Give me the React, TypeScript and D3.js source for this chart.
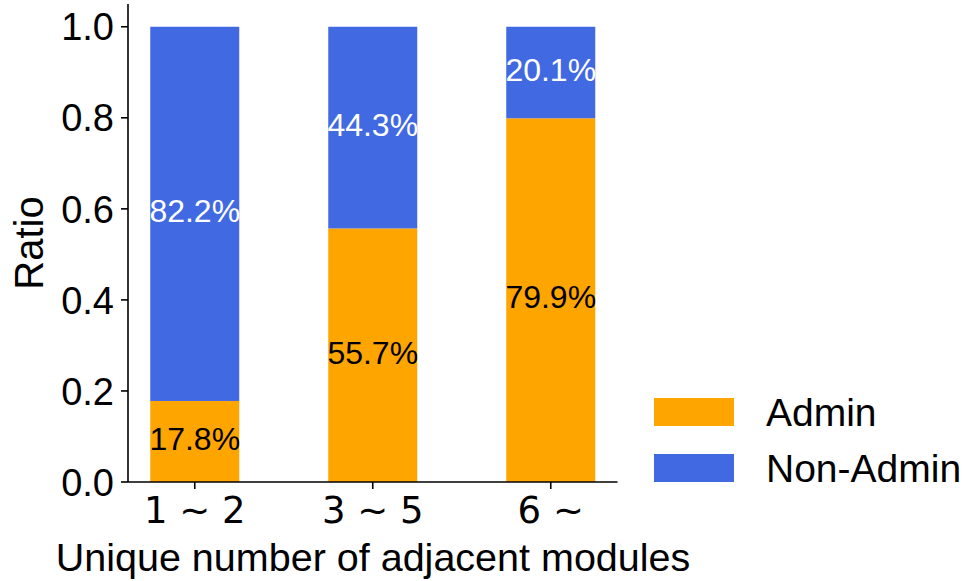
import React from "react";
import * as d3 from "d3";

const categories = ["1 ∼ 2", "3 ∼ 5", "6 ∼"];
const adminValues = [0.178, 0.557, 0.799];
const nonAdminValues = [0.822, 0.443, 0.201];
const yTicks = [0, 0.2, 0.4, 0.6, 0.8, 1.0];
const seriesNames = ["Admin", "Non-Admin"];
const colors = ["#FFA500", "#4169E1"];

const W = 965;
const H = 581;
const FONT = "'Liberation Sans', Arial, sans-serif";

export default function App() {
  const x = d3.scaleLinear().domain([-0.375, 2.375]).range([128, 617.5]);
  const y = d3.scaleLinear().domain([0, 1.05]).range([482, 4]);
  const bw = x(0.5) - x(0);

  return (
    <svg width={W} height={H} style={{ position: "absolute", left: 0, top: 0, background: "#fff" }}>
      {categories.map((c, i) => {
        const a = adminValues[i];
        const n = nonAdminValues[i];
        const cx = x(i);
        return (
          <g key={c}>
            <rect x={cx - bw / 2} y={y(a)} width={bw} height={y(0) - y(a)} fill={colors[0]} />
            <rect x={cx - bw / 2} y={y(a + n)} width={bw} height={y(a) - y(a + n)} fill={colors[1]} />
            <text x={cx} y={y(a / 2)} dy="0.26em" textAnchor="middle" fontFamily={FONT} fontSize={32} fill="#000">
              {(a * 100).toFixed(1)}%
            </text>
            <text x={cx} y={y(a + n / 2)} dy="0.26em" textAnchor="middle" fontFamily={FONT} fontSize={32} fill="#fff">
              {(n * 100).toFixed(1)}%
            </text>
          </g>
        );
      })}
      {/* axes */}
      <line x1={128} x2={128} y1={y(1.05)} y2={y(0)} stroke="#000" strokeWidth={1.6} />
      <line x1={128} x2={617.5} y1={y(0)} y2={y(0)} stroke="#000" strokeWidth={1.6} />
      {yTicks.map((t) => (
        <g key={t}>
          <line x1={121} x2={128} y1={y(t)} y2={y(t)} stroke="#000" strokeWidth={1.6} />
          <text x={114} y={y(t)} dy="0.36em" textAnchor="end" fontFamily={FONT} fontSize={38} fill="#000">
            {t.toFixed(1)}
          </text>
        </g>
      ))}
      {categories.map((c, i) => (
        <g key={c}>
          <line x1={x(i)} x2={x(i)} y1={y(0)} y2={y(0) + 7} stroke="#000" strokeWidth={1.6} />
          <text x={x(i)} y={523} textAnchor="middle" fontFamily="'DejaVu Sans', sans-serif" fontSize={37} fill="#000">
            {c}
          </text>
        </g>
      ))}
      <text x={373} y={571} textAnchor="middle" fontFamily={FONT} fontSize={39.5} fill="#000">
        Unique number of adjacent modules
      </text>
      <text transform={`translate(43, ${y(0.525)}) rotate(-90)`} textAnchor="middle" fontFamily={FONT} fontSize={40} fill="#000">
        Ratio
      </text>
      {/* legend */}
      {seriesNames.map((s, i) => (
        <g key={s} transform={`translate(654, ${398 + i * 56})`}>
          <rect x={0} y={0} width={80} height={28} fill={colors[i]} />
          <text x={112} y={14} dy="0.36em" fontFamily={FONT} fontSize={39} fill="#000">
            {s}
          </text>
        </g>
      ))}
    </svg>
  );
}
